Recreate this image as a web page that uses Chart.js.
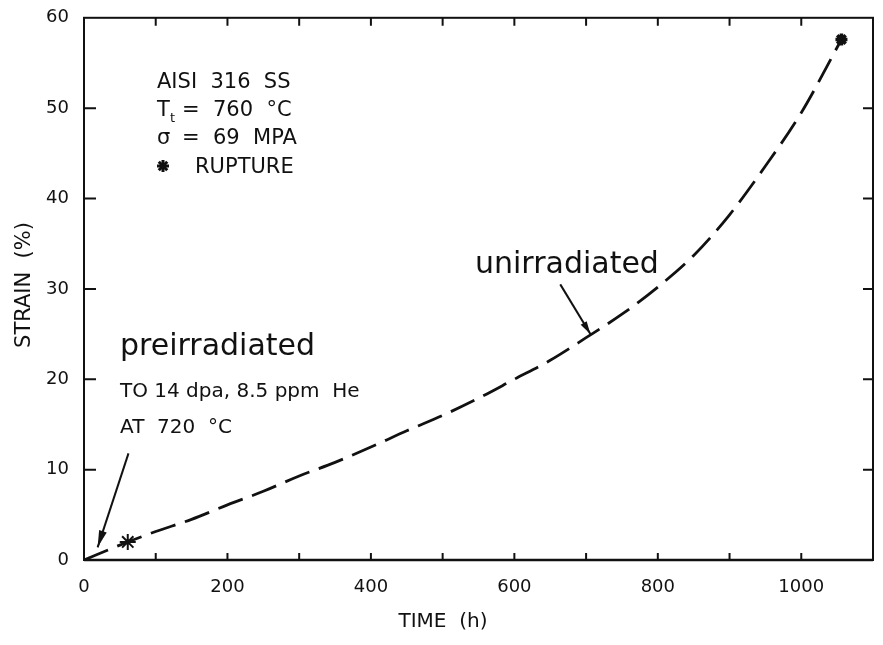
<!DOCTYPE html>
<html>
<head>
<meta charset="utf-8">
<script src="https://cdn.jsdelivr.net/npm/chart.js@4.4.1/dist/chart.umd.min.js"></script>
<style>
  body { margin: 0; background: #fff; }
  #wrap { width: 883px; height: 645px; }
</style>
</head>
<body>
<div id="wrap"><canvas id="strainChart" width="883" height="645"></canvas></div>
<script>
// valeurs
const timeTicks = [0, 200, 400, 600, 800, 1000];
const timeMinorTicks = [100, 200, 300, 400, 500, 600, 700, 800, 900, 1000];
const strainTicks = [0, 10, 20, 30, 40, 50, 60];

// courbe non irradiee (tirets)
const unirrTime   = [0, 50, 100, 150, 200, 250, 300, 350, 400, 450, 500, 550, 600, 650, 700, 750, 800, 850, 900, 950, 1000, 1056];
const unirrStrain = [0, 1.65, 3.15, 4.5, 6.1, 7.6, 9.3, 10.8, 12.5, 14.3, 16.0, 17.9, 20.0, 22.1, 24.6, 27.2, 30.2, 33.7, 38.2, 43.6, 49.5, 57.6];

// points de rupture
const ruptureTime   = [1056, 61];
const ruptureStrain = [57.6, 2.0];

// fleches (depart -> pointe), en unites de donnees
const preArrow   = [[62, 11.8], [19, 1.4]];
const unirrArrow = [[664, 30.5], [706, 25.0]];

const FONT = '"DejaVu Sans", sans-serif';
const INK = "#111";

function pts(xs, ys) {
  return xs.map((x, i) => ({ x: x, y: ys[i] }));
}

function drawStar(ctx, x, y, r, w) {
  ctx.save();
  ctx.strokeStyle = INK;
  ctx.lineWidth = w;
  for (let k = 0; k < 4; k++) {
    const a = k * Math.PI / 4;
    ctx.beginPath();
    ctx.moveTo(x - r * Math.cos(a), y - r * Math.sin(a));
    ctx.lineTo(x + r * Math.cos(a), y + r * Math.sin(a));
    ctx.stroke();
  }
  ctx.restore();
}

function text(ctx, s, x, y, size, align) {
  ctx.font = size + "px " + FONT;
  ctx.textAlign = align || "left";
  ctx.textBaseline = "alphabetic";
  ctx.fillText(s, x, y);
}

// cadre, graduations interieures, fleches et textes
const decor = {
  id: "decor",
  afterDatasetsDraw(chart) {
    const ctx = chart.ctx;
    const a = chart.chartArea;
    const xs = chart.scales.x;
    const ys = chart.scales.y;
    ctx.save();
    ctx.strokeStyle = INK;
    ctx.fillStyle = INK;

    // cadre
    ctx.lineWidth = 2;
    ctx.strokeRect(a.left, a.top, a.right - a.left, a.bottom - a.top);
    ctx.lineWidth = 2.5;
    ctx.beginPath();
    ctx.moveTo(a.left, a.bottom);
    ctx.lineTo(a.right, a.bottom);
    ctx.stroke();

    // graduations
    ctx.lineWidth = 2;
    timeMinorTicks.forEach(v => {
      const px = xs.getPixelForValue(v);
      ctx.beginPath();
      ctx.moveTo(px, a.bottom);
      ctx.lineTo(px, a.bottom - 7);
      ctx.moveTo(px, a.top);
      ctx.lineTo(px, a.top + 8);
      ctx.stroke();
    });
    strainTicks.slice(1, -1).forEach(v => {
      const py = ys.getPixelForValue(v);
      ctx.beginPath();
      ctx.moveTo(a.left, py);
      ctx.lineTo(a.left + 12, py);
      ctx.moveTo(a.right, py);
      ctx.lineTo(a.right - 10, py);
      ctx.stroke();
    });

    // pointes de fleches
    [[preArrow, 17, 4], [unirrArrow, 13, 3.5]].forEach(([arr, len, half]) => {
      const x0 = xs.getPixelForValue(arr[0][0]), y0 = ys.getPixelForValue(arr[0][1]);
      const x1 = xs.getPixelForValue(arr[1][0]), y1 = ys.getPixelForValue(arr[1][1]);
      const ang = Math.atan2(y1 - y0, x1 - x0);
      ctx.beginPath();
      ctx.moveTo(x1, y1);
      ctx.lineTo(x1 - len * Math.cos(ang) + half * Math.sin(ang), y1 - len * Math.sin(ang) - half * Math.cos(ang));
      ctx.lineTo(x1 - len * Math.cos(ang) - half * Math.sin(ang), y1 - len * Math.sin(ang) + half * Math.cos(ang));
      ctx.closePath();
      ctx.fill();
    });

    // bloc d'info
    text(ctx, "AISI  316  SS", 157, 88, 21);
    text(ctx, "T", 157, 116, 21);
    text(ctx, "t", 170, 122, 13);
    text(ctx, "=  760  °C", 182, 116, 21);
    text(ctx, "σ", 157, 144, 21);
    text(ctx, "=  69  MPA", 182, 144, 21);
    drawStar(ctx, 163, 166, 6, 3);
    text(ctx, "RUPTURE", 195, 173, 21);

    text(ctx, "preirradiated", 120, 355, 30);
    text(ctx, "TO 14 dpa, 8.5 ppm  He", 120, 397, 20);
    text(ctx, "AT  720  °C", 120, 433, 20);
    text(ctx, "unirradiated", 475, 273, 30);

    // titres d'axes
    text(ctx, "TIME  (h)", 443, 627, 20, "center");
    ctx.save();
    ctx.translate(30, 285);
    ctx.rotate(-Math.PI / 2);
    text(ctx, "STRAIN  (%)", 0, 0, 21, "center");
    ctx.restore();

    ctx.restore();
  }
};

const strainCtx = document.getElementById("strainChart");

const strainChart = new Chart(strainCtx, {
  type: "scatter",
  data: {
    datasets: [
      {
        label: "unirradiated",
        data: pts(unirrTime, unirrStrain),
        showLine: true,
        borderColor: INK,
        borderWidth: 2.8,
        borderDash: [26, 10],
        cubicInterpolationMode: "monotone",
        pointRadius: 0
      },
      {
        label: "rupture",
        data: pts(ruptureTime, ruptureStrain),
        pointStyle: "star",
        pointRadius: [6, 8],
        pointBorderWidth: [3.5, 2],
        borderColor: INK,
        backgroundColor: INK
      },
      {
        label: "arrow pre",
        data: preArrow.map(p => ({ x: p[0], y: p[1] })),
        showLine: true,
        borderColor: INK,
        borderWidth: 2,
        pointRadius: 0
      },
      {
        label: "arrow unirr",
        data: unirrArrow.map(p => ({ x: p[0], y: p[1] })),
        showLine: true,
        borderColor: INK,
        borderWidth: 2,
        pointRadius: 0
      }
    ]
  },
  options: {
    responsive: false,
    animation: false,
    devicePixelRatio: 1,
    layout: { padding: { left: 0, top: 17, right: 7, bottom: 0 } },
    plugins: {
      legend: { display: false },
      tooltip: { enabled: false }
    },
    scales: {
      x: {
        type: "linear",
        min: 0,
        max: 1100,
        grid: { display: false },
        border: { display: false },
        afterBuildTicks: s => { s.ticks = timeTicks.map(v => ({ value: v })); },
        afterFit: s => { s.height = 85; },
        ticks: {
          padding: 9,
          color: INK,
          font: { family: FONT, size: 18 },
          maxRotation: 0,
          callback: v => String(v)
        }
      },
      y: {
        type: "linear",
        min: 0,
        max: 60,
        grid: { display: false },
        border: { display: false },
        afterBuildTicks: s => { s.ticks = strainTicks.map(v => ({ value: v })); },
        afterFit: s => { s.width = 84; },
        ticks: {
          padding: 7,
          color: INK,
          font: { family: FONT, size: 18 },
          callback: v => String(v)
        }
      }
    }
  },
  plugins: [decor]
});
</script>
</body>
</html>
